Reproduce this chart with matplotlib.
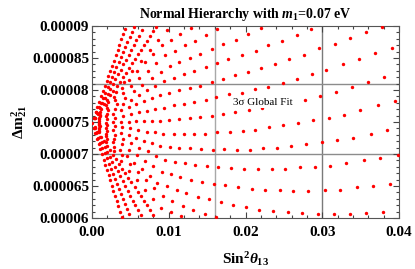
import matplotlib
matplotlib.use("Agg")
import matplotlib.pyplot as plt
import numpy as np
from matplotlib.ticker import MultipleLocator

# sin^2(theta13) in units of 1e-3, Delta m^2_21 in units of 1e-5 eV^2
# one list pair per curve of the scan
s13_origin = [0.0]
dm_origin = [7.49]

# steep curves, upper side
s13_up14 = [0.24, 0.48, 0.71, 0.95, 1.19, 1.43, 1.67, 1.90, 2.14, 2.38, 2.62, 2.85,
            3.09, 3.33, 3.57, 3.81, 4.04, 4.28]
dm_up14 = [7.57, 7.65, 7.73, 7.81, 7.90, 7.98, 8.06, 8.14, 8.22, 8.30, 8.38, 8.46,
           8.54, 8.63, 8.71, 8.79, 8.87, 8.95]
s13_up12 = [0.29, 0.58, 0.87, 1.15, 1.44, 1.73, 2.02, 2.31, 2.60, 2.89, 3.17, 3.46,
            3.75, 4.04, 4.33, 4.62, 4.91, 5.20, 5.48]
dm_up12 = [7.57, 7.65, 7.73, 7.80, 7.88, 7.96, 8.04, 8.12, 8.20, 8.28, 8.36, 8.43,
           8.51, 8.59, 8.67, 8.75, 8.83, 8.91, 8.99]
s13_up10 = [0.34, 0.68, 1.02, 1.36, 1.70, 2.04, 2.38, 2.72, 3.06, 3.40, 3.74, 4.08,
            4.42, 4.76, 5.10, 5.44, 5.77, 6.11, 6.45]
dm_up10 = [7.57, 7.64, 7.72, 7.79, 7.87, 7.94, 8.02, 8.10, 8.17, 8.25, 8.32, 8.40,
           8.47, 8.55, 8.63, 8.70, 8.78, 8.85, 8.93]
s13_up8 = [0.40, 0.80, 1.20, 1.60, 2.00, 2.40, 2.80, 3.20, 3.60, 4.00, 4.40, 4.80,
           5.20, 5.60, 6.00, 6.40, 6.80, 7.20, 7.60, 8.00, 8.40]
dm_up8 = [7.56, 7.63, 7.70, 7.78, 7.85, 7.92, 7.99, 8.06, 8.13, 8.20, 8.27, 8.35,
          8.42, 8.49, 8.56, 8.63, 8.70, 8.77, 8.84, 8.92, 8.99]

# curves that bend over towards the right
s13_up7 = [1.01, 2.02, 3.10, 4.18, 5.27, 6.35, 7.50, 8.65, 9.81]
dm_up7 = [7.65, 7.81, 7.97, 8.13, 8.30, 8.46, 8.62, 8.78, 8.94]
s13_up6 = [0.94, 1.87, 2.87, 3.87, 4.88, 5.87, 6.95, 8.01, 9.08, 10.29, 11.47, 12.86]
dm_up6 = [7.62, 7.76, 7.89, 8.03, 8.16, 8.30, 8.43, 8.57, 8.70, 8.78, 8.88, 8.97]
s13_up5 = [0.98, 1.96, 3.01, 4.05, 5.11, 6.15, 7.28, 8.39, 9.51, 10.78, 12.12, 13.42,
           14.82, 16.33]
dm_up5 = [7.61, 7.72, 7.84, 7.95, 8.07, 8.19, 8.30, 8.42, 8.54, 8.61, 8.70, 8.77,
          8.86, 8.95]
s13_up4 = [1.05, 2.09, 3.21, 4.33, 5.46, 6.57, 7.77, 8.96, 10.16, 11.34, 12.73, 14.07,
           15.60, 17.11, 18.76, 20.37, 22.06]
dm_up4 = [7.59, 7.69, 7.78, 7.88, 7.98, 8.08, 8.18, 8.28, 8.38, 8.43, 8.50, 8.57,
          8.64, 8.72, 8.78, 8.88, 8.97]
s13_up3 = [0.97, 1.93, 2.96, 4.00, 5.04, 6.07, 7.18, 8.27, 9.38, 10.65, 11.95, 13.29,
           14.82, 16.33, 17.76, 19.51, 21.33, 22.93, 24.72, 26.67, 28.54]
dm_up3 = [7.56, 7.63, 7.71, 7.78, 7.85, 7.92, 8.00, 8.07, 8.14, 8.19, 8.25, 8.30,
          8.36, 8.42, 8.48, 8.54, 8.61, 8.70, 8.77, 8.86, 8.95]
s13_up2 = [0.91, 1.83, 2.80, 3.77, 4.76, 5.73, 6.78, 7.81, 8.86, 9.99, 11.34, 12.73,
           14.07, 15.60, 17.11, 18.63, 20.37, 22.02, 23.84, 25.67, 27.59, 29.58, 31.66,
           33.62, 35.70, 37.79]
dm_up2 = [7.54, 7.59, 7.63, 7.68, 7.73, 7.78, 7.83, 7.87, 7.92, 7.96, 8.00, 8.03,
          8.07, 8.13, 8.17, 8.23, 8.28, 8.34, 8.41, 8.48, 8.55, 8.65, 8.72,
          8.82, 8.91, 8.99]
s13_up1 = [0.97, 1.93, 2.96, 4.00, 5.04, 6.07, 7.18, 8.27, 9.38, 10.65, 11.99, 13.33,
           14.82, 16.12, 17.81, 19.51, 21.24, 22.93, 24.85, 26.67, 28.63, 30.53, 32.71,
           34.79, 36.87, 39.13]
dm_up1 = [7.52, 7.54, 7.57, 7.59, 7.62, 7.65, 7.67, 7.70, 7.72, 7.76, 7.78, 7.82,
          7.84, 7.89, 7.93, 7.96, 8.01, 8.05, 8.11, 8.17, 8.25, 8.32, 8.40,
          8.48, 8.58, 8.66]
s13_mid = [0.91, 1.83, 2.80, 3.77, 4.76, 5.73, 6.78, 7.81, 8.86, 9.99, 11.34, 12.73,
           14.11, 15.60, 17.07, 18.67, 20.42, 22.15, 23.98, 25.80, 27.71, 29.67, 31.79,
           33.88, 36.00, 38.09]
dm_mid = [7.49, 7.49, 7.50, 7.50, 7.50, 7.51, 7.51, 7.51, 7.52, 7.53, 7.55, 7.56,
          7.58, 7.60, 7.62, 7.65, 7.69, 7.72, 7.77, 7.81, 7.85, 7.91, 7.97,
          8.05, 8.12, 8.21]
s13_dn1 = [0.96, 1.91, 2.94, 3.96, 4.99, 6.01, 7.11, 8.19, 9.29, 10.65, 11.99, 13.33,
           14.68, 16.29, 17.98, 19.64, 21.24, 23.06, 24.89, 26.84, 28.80, 30.88, 32.84,
           34.92, 37.23, 39.48]
dm_dn1 = [7.47, 7.45, 7.43, 7.42, 7.40, 7.38, 7.35, 7.34, 7.32, 7.32, 7.32, 7.32,
          7.32, 7.35, 7.35, 7.36, 7.38, 7.42, 7.45, 7.49, 7.53, 7.56, 7.61,
          7.69, 7.76, 7.83]
s13_dn2 = [0.91, 1.83, 2.80, 3.77, 4.76, 5.73, 6.78, 7.81, 8.86, 10.16, 11.38, 12.73,
           14.16, 15.73, 17.20, 18.85, 20.55, 22.28, 24.11, 25.97, 27.92, 29.97, 31.92,
           34.01, 36.31, 38.40]
dm_dn2 = [7.45, 7.41, 7.37, 7.33, 7.29, 7.25, 7.21, 7.17, 7.13, 7.11, 7.09, 7.09,
          7.08, 7.07, 7.08, 7.07, 7.07, 7.09, 7.09, 7.13, 7.15, 7.18, 7.22,
          7.25, 7.31, 7.38]
s13_dn3 = [0.98, 1.96, 3.01, 4.05, 5.11, 6.15, 7.28, 8.39, 9.51, 10.78, 12.12, 13.46,
           14.95, 16.46, 18.11, 19.77, 21.59, 23.42, 25.15, 27.10, 29.10, 31.01, 33.14,
           35.40, 37.49, 39.83]
dm_dn3 = [7.43, 7.36, 7.30, 7.23, 7.17, 7.10, 7.04, 6.97, 6.91, 6.88, 6.86, 6.83,
          6.82, 6.80, 6.78, 6.77, 6.77, 6.77, 6.77, 6.79, 6.80, 6.82, 6.86,
          6.90, 6.93, 6.99]
s13_dn4 = [0.94, 1.87, 2.87, 3.87, 4.88, 5.87, 6.95, 8.01, 9.08, 10.29, 11.47, 12.86,
           14.33, 15.90, 17.37, 19.02, 20.81, 22.50, 24.46, 26.19, 28.14, 30.32, 32.27,
           34.49, 36.58, 38.83]
dm_dn4 = [7.40, 7.32, 7.23, 7.15, 7.06, 6.98, 6.89, 6.81, 6.72, 6.68, 6.64, 6.60,
          6.57, 6.53, 6.52, 6.48, 6.46, 6.44, 6.44, 6.42, 6.42, 6.44, 6.44,
          6.48, 6.50, 6.53]
s13_dn5 = [0.88, 1.76, 2.70, 3.63, 4.58, 5.52, 6.53, 7.52, 8.53, 9.73, 11.04, 12.25,
           13.77, 15.25, 16.77, 18.41, 20.07, 21.76, 23.55, 25.50, 27.40, 29.45, 31.53,
           33.58, 35.70, 37.92]
dm_dn5 = [7.39, 7.28, 7.18, 7.07, 6.97, 6.86, 6.76, 6.65, 6.55, 6.50, 6.44, 6.39,
          6.33, 6.30, 6.25, 6.21, 6.17, 6.13, 6.11, 6.10, 6.08, 6.06, 6.06,
          6.06, 6.08, 6.10]
s13_dn6 = [0.95, 1.90, 2.91, 3.92, 4.95, 5.96, 7.05, 8.12, 9.21, 10.46, 11.82, 13.16,
           14.68, 16.16]
dm_dn6 = [7.36, 7.23, 7.11, 6.98, 6.85, 6.72, 6.59, 6.47, 6.34, 6.26, 6.19, 6.12,
          6.06, 6.01]
s13_dn7 = [0.93, 1.85, 2.84, 3.83, 4.83, 5.82, 6.89, 7.94, 8.99, 10.29, 11.60]
dm_dn7 = [7.34, 7.19, 7.04, 6.89, 6.74, 6.59, 6.44, 6.29, 6.15, 6.09, 6.03]

# steep curves, lower side
s13_dn8 = [0.40, 0.79, 1.19, 1.58, 1.98, 2.37, 2.77, 3.17, 3.56, 3.96, 4.35, 4.75,
           5.14, 5.54, 5.94, 6.33, 6.73, 7.12, 7.52, 7.91]
dm_dn8 = [7.42, 7.35, 7.27, 7.20, 7.13, 7.06, 6.99, 6.92, 6.84, 6.77, 6.70, 6.63,
          6.56, 6.48, 6.41, 6.34, 6.27, 6.20, 6.13, 6.05]
s13_dn10 = [0.33, 0.67, 1.00, 1.33, 1.67, 2.00, 2.33, 2.67, 3.00, 3.33, 3.67, 4.00,
            4.33, 4.66, 5.00, 5.33, 5.66, 6.00, 6.33]
dm_dn10 = [7.41, 7.34, 7.26, 7.19, 7.11, 7.03, 6.96, 6.88, 6.80, 6.73, 6.65, 6.58,
           6.50, 6.42, 6.35, 6.27, 6.20, 6.12, 6.04]
s13_dn12 = [0.27, 0.54, 0.81, 1.09, 1.36, 1.63, 1.90, 2.17, 2.44, 2.71, 2.98, 3.26,
            3.53, 3.80, 4.07, 4.34, 4.61, 4.88]
dm_dn12 = [7.41, 7.33, 7.25, 7.17, 7.09, 7.01, 6.93, 6.85, 6.77, 6.69, 6.61, 6.53,
           6.45, 6.38, 6.30, 6.22, 6.14, 6.06]
s13_dn14 = [0.22, 0.43, 0.65, 0.86, 1.08, 1.29, 1.51, 1.72, 1.94, 2.15, 2.37, 2.58,
            2.80, 3.02, 3.23, 3.45, 3.66, 3.88]
dm_dn14 = [7.41, 7.33, 7.24, 7.16, 7.08, 7.00, 6.91, 6.83, 6.75, 6.67, 6.59, 6.50,
           6.42, 6.34, 6.26, 6.18, 6.09, 6.01]

# 3 sigma global fit window
s13_fit = [0.016, 0.030]
dm_fit = [7.00e-5, 8.09e-5]

yticks = [6e-5, 6.5e-5, 7e-5, 7.5e-5, 8e-5, 8.5e-5, 9e-5]
ytick_labels = ["0.00006", "0.000065", "0.00007", "0.000075", "0.00008",
                "0.000085", "0.00009"]
xticks = [0.0, 0.01, 0.02, 0.03, 0.04]
xtick_labels = ["0.00", "0.01", "0.02", "0.03", "0.04"]

rows = [
    (s13_origin, dm_origin),
    (s13_up14, dm_up14), (s13_up12, dm_up12), (s13_up10, dm_up10),
    (s13_up8, dm_up8), (s13_up7, dm_up7),
    (s13_up6, dm_up6), (s13_up5, dm_up5), (s13_up4, dm_up4),
    (s13_up3, dm_up3), (s13_up2, dm_up2), (s13_up1, dm_up1),
    (s13_mid, dm_mid),
    (s13_dn1, dm_dn1), (s13_dn2, dm_dn2), (s13_dn3, dm_dn3),
    (s13_dn4, dm_dn4), (s13_dn5, dm_dn5), (s13_dn6, dm_dn6),
    (s13_dn7, dm_dn7), (s13_dn8, dm_dn8), (s13_dn10, dm_dn10),
    (s13_dn12, dm_dn12), (s13_dn14, dm_dn14),
]

plt.rcParams['font.family'] = ['Liberation Serif', 'DejaVu Serif']
plt.rcParams['mathtext.fontset'] = 'custom'
plt.rcParams['mathtext.rm'] = 'Liberation Serif:bold'
plt.rcParams['mathtext.bf'] = 'Liberation Serif:bold'
plt.rcParams['mathtext.it'] = 'Liberation Serif:italic:bold'

fig = plt.figure(figsize=(4.15, 2.69), dpi=100)
ax = fig.add_axes([0.2217, 0.1896, 0.7398, 0.7138])

for sx, dy in rows:
    ax.scatter(np.array(sx) * 1e-3, np.array(dy) * 1e-5, s=6, c='red',
               linewidths=0, zorder=3)

ax.axvline(s13_fit[0], color='#a8a8a8', lw=1.0, zorder=1)
ax.axvline(s13_fit[1], color='#7a7a7a', lw=1.0, zorder=1)
for v in dm_fit:
    ax.axhline(v, color='#8c8c8c', lw=1.0, zorder=1)

ax.text(0.0184, 7.80e-5, '3σ Global Fit', fontsize=8, va='center', ha='left',
        zorder=5, bbox=dict(facecolor='white', edgecolor='none', pad=0.5))

ax.set_xlim(0, 0.04)
ax.set_ylim(6e-5, 9e-5)
ax.set_xticks(xticks)
ax.set_xticklabels(xtick_labels, fontsize=11, fontweight='bold')
ax.set_yticks(yticks)
ax.set_yticklabels(ytick_labels, fontsize=11, fontweight='bold')
ax.xaxis.set_minor_locator(MultipleLocator(0.002))
ax.yaxis.set_minor_locator(MultipleLocator(1e-6))
ax.tick_params(which='both', direction='in', top=True, right=True,
               color='#444444', width=0.8)
ax.tick_params(which='major', length=4)
ax.tick_params(axis='y', which='major', pad=2)
ax.tick_params(axis='x', which='major', pad=6)
ax.tick_params(which='minor', length=2)
for sp in ax.spines.values():
    sp.set_color('#555555')
    sp.set_linewidth(0.8)

ax.set_title('Normal Hierarchy with $m_1$=0.07 eV', fontsize=10,
             fontweight='bold', pad=6)
ax.set_xlabel(r'Sin$^{2}\theta_{13}$', fontsize=11, fontweight='bold', labelpad=8)
ax.set_ylabel(r'$\Delta\mathrm{m}_{21}^{2}$', fontsize=11, labelpad=2)

fig.savefig('out.png', dpi=100)
